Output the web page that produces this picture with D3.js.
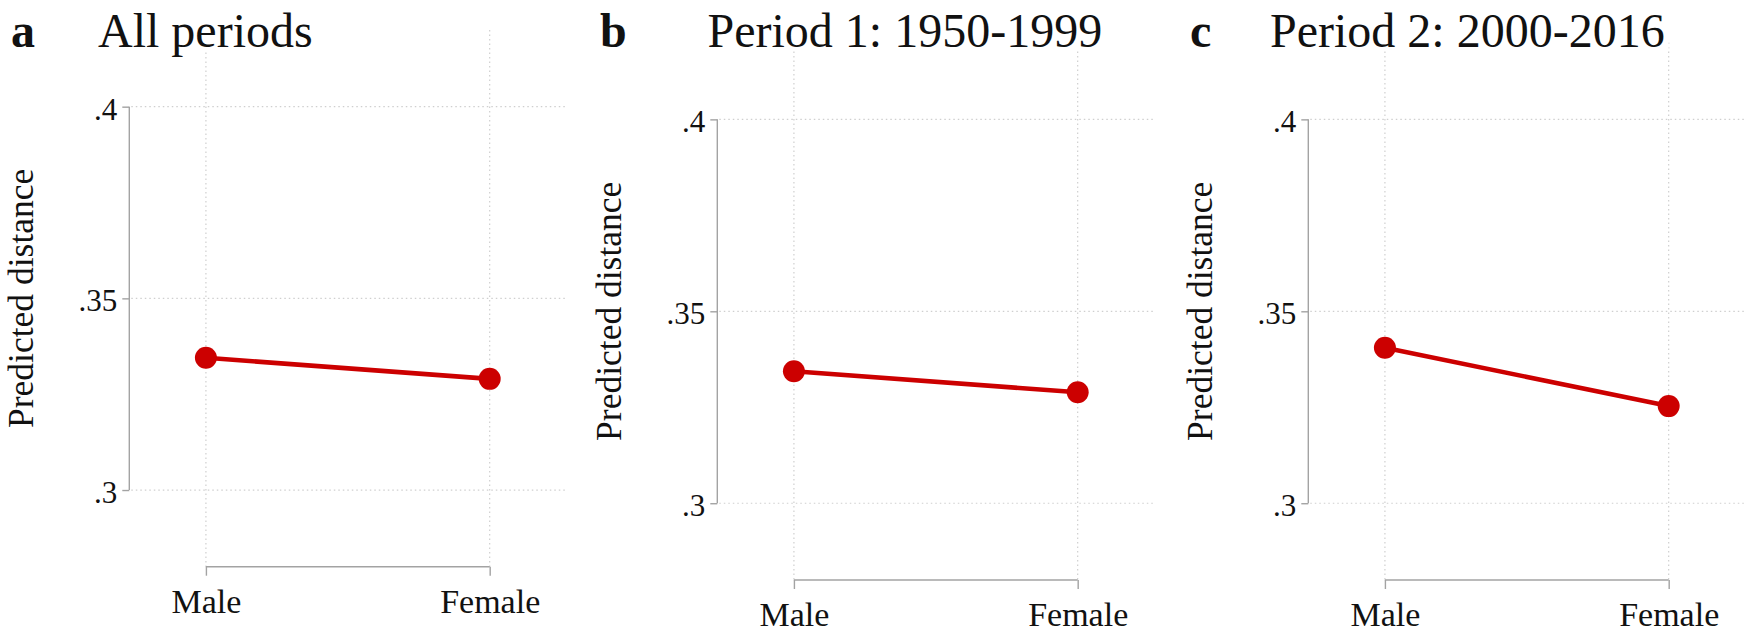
<!DOCTYPE html>
<html>
<head>
<meta charset="utf-8">
<script src="https://cdn.jsdelivr.net/npm/d3@7"></script>
<style>
  body { margin: 0; background: #fff; }
  svg { display: block; }
  text { font-family: "Liberation Serif", "Times New Roman", serif; fill: #111; }
  .grid line { stroke: #cfcfcf; stroke-width: 1.2; stroke-dasharray: 1.5,3; }
  .axis path, .axis line { stroke: #a3a3a3; stroke-width: 1.4; }
</style>
</head>
<body>
<div id="chart"></div>
<script>
// values
var categories = ["Male", "Female"];
var panelLetters = ["a", "b", "c"];
var panelTitles = ["All periods", "Period 1: 1950-1999", "Period 2: 2000-2016"];
var allPeriods = [0.3345, 0.3290];
var period1 = [0.3344, 0.3289];
var period2 = [0.3405, 0.3253];
var yTicks = [0.3, 0.35, 0.4];
var yTitle = "Predicted distance";

var series = [allPeriods, period1, period2];

var width = 1750,
    height = 634;

// panel placement
var panels = [
  {axisX: 129.3, top: 30, bottom: 566.7, letterX: 11, titleX: 98},
  {axisX: 717.3, top: 42.6, bottom: 580, letterX: 600, titleX: 707.5},
  {axisX: 1308.3, top: 42.6, bottom: 580, letterX: 1190, titleX: 1270}
];
var plotW = 437;

var svg = d3.select("#chart").append("svg")
    .attr("width", width)
    .attr("height", height);

var fmt = function(d) { return String(d).replace(/^0/, ""); };

panels.forEach(function(p, i) {
  var g = svg.append("g");

  var x = d3.scalePoint()
      .domain(categories)
      .range([p.axisX, p.axisX + plotW])
      .padding(0.27);

  var y = d3.scaleLinear()
      .domain([0.28, 0.42])
      .range([p.bottom, p.top]);

  // grid
  var grid = g.append("g").attr("class", "grid");
  grid.selectAll(".h").data(yTicks).enter().append("line")
      .attr("x1", p.axisX + 2).attr("x2", p.axisX + plotW)
      .attr("y1", function(d) { return y(d); })
      .attr("y2", function(d) { return y(d); });
  grid.selectAll(".v").data(categories).enter().append("line")
      .attr("x1", function(d) { return x(d); })
      .attr("x2", function(d) { return x(d); })
      .attr("y1", p.top).attr("y2", p.bottom);

  // y axis: only spans the tick range
  var yAxis = g.append("g")
      .attr("class", "axis")
      .attr("transform", "translate(" + p.axisX + ",0)")
      .call(d3.axisLeft(y).tickValues(yTicks).tickFormat(fmt).tickSize(7).tickSizeOuter(0));
  yAxis.select(".domain")
      .attr("d", "M0," + y(yTicks[0]) + "V" + y(yTicks[yTicks.length - 1]));
  yAxis.selectAll("text")
      .attr("x", -12)
      .attr("dy", "0.4em")
      .style("font-size", "31px")
      .attr("fill", "#111");

  // x axis: spans the categories only
  var xAxis = g.append("g")
      .attr("class", "axis")
      .attr("transform", "translate(0," + p.bottom + ")")
      .call(d3.axisBottom(x).tickSize(9).tickSizeOuter(0));
  xAxis.select(".domain")
      .attr("d", "M" + x(categories[0]) + ",0H" + x(categories[categories.length - 1]));
  xAxis.selectAll("text")
      .attr("y", 46)
      .attr("dy", 0)
      .style("font-size", "34px")
      .attr("fill", "#111");

  // y title
  g.append("text")
      .attr("transform", "translate(" + (p.axisX - 96) + "," + y(0.35) + ") rotate(-90)")
      .attr("text-anchor", "middle")
      .style("font-size", "35.5px")
      .text(yTitle);

  // line + markers
  var line = d3.line()
      .x(function(d, j) { return x(categories[j]); })
      .y(function(d) { return y(d); });

  g.append("path")
      .datum(series[i])
      .attr("fill", "none")
      .attr("stroke", "#cc0000")
      .attr("stroke-width", 4.6)
      .attr("d", line);

  g.selectAll(".dot").data(series[i]).enter().append("circle")
      .attr("cx", function(d, j) { return x(categories[j]); })
      .attr("cy", function(d) { return y(d); })
      .attr("r", 11)
      .attr("fill", "#cc0000");

  // panel letter and title (title sits on a white box, like the original)
  svg.append("text")
      .attr("x", p.letterX).attr("y", 47)
      .style("font-size", "48px")
      .style("font-weight", "bold")
      .text(panelLetters[i]);

  var tg = svg.append("g");
  var bg = tg.append("rect").attr("fill", "#fff");
  var t = tg.append("text")
      .attr("x", p.titleX).attr("y", 47)
      .style("font-size", "48px")
      .text(panelTitles[i]);
  var bb = t.node().getBBox();
  bg.attr("x", bb.x - 4).attr("y", bb.y)
    .attr("width", bb.width + 8).attr("height", bb.height - 6);
});
</script>
</body>
</html>
